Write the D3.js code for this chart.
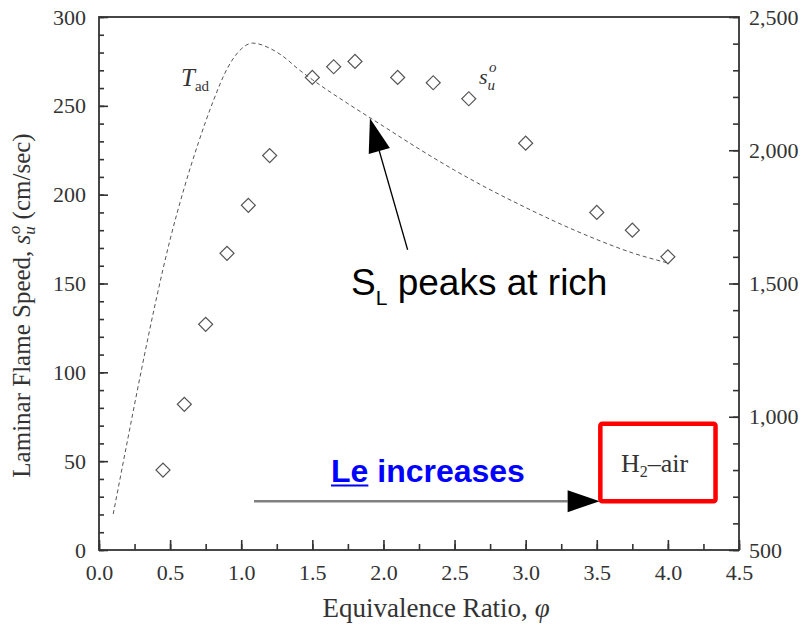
<!DOCTYPE html>
<html>
<head>
<meta charset="UTF-8">
<script src="https://cdn.jsdelivr.net/npm/d3@7/dist/d3.min.js"></script>
<style>
  body { margin: 0; background: #fff; }
  text { font-family: "Liberation Serif", "Times New Roman", serif; fill: #333; }
  .sans { font-family: "Liberation Sans", Arial, sans-serif; }
</style>
</head>
<body>
<svg id="chart" width="802" height="627"></svg>
<script>

// flame speed points (equivalence ratio, cm/sec)
let phi_su = [0.45, 0.6, 0.75, 0.9, 1.05, 1.2, 1.5, 1.65, 1.8, 2.1, 2.35, 2.6, 3.0, 3.5, 3.75, 4.0];
let su     = [45, 82, 127, 167, 194, 222, 266, 272, 275, 266, 263, 254, 229, 190, 180, 165];

// adiabatic flame temperature curve (K, right axis)
let phi_T = [0.1, 0.2, 0.3, 0.4, 0.5, 0.6, 0.7, 0.8, 0.9, 1.0, 1.08, 1.2, 1.3, 1.4, 1.5, 1.75, 2.0, 2.25, 2.5, 2.75, 3.0, 3.25, 3.5, 3.75, 4.0];
let T_ad  = [635, 910, 1180, 1435, 1665, 1860, 2030, 2180, 2305, 2380, 2402, 2383, 2350, 2305, 2265, 2175, 2090, 2005, 1925, 1852, 1785, 1722, 1665, 1615, 1577];

// ticks
let x_major = [0, 0.5, 1, 1.5, 2, 2.5, 3, 3.5, 4, 4.5];
let x_minor = d3.range(0, 4.51, 0.25);
let y_major = [0, 50, 100, 150, 200, 250, 300];
let y_minor = d3.range(0, 301, 10);
let t_major = [500, 1000, 1500, 2000, 2500];
let t_minor = d3.range(500, 2501, 100);

let svg = d3.select("#chart");
let mLeft = 99, mRight = 739, mTop = 17, mBottom = 550;

let x = d3.scaleLinear([0, 4.5], [mLeft, mRight]);
let y = d3.scaleLinear([0, 300], [mBottom, mTop]);
let yT = d3.scaleLinear([500, 2500], [mBottom, mTop]);

//===================== axes =====================//
function styleAxis(g) {
    g.select(".domain").remove();
    g.selectAll("line").attr("stroke", "#333").attr("stroke-width", 1.6);
    g.selectAll("text").attr("font-size", 22).attr("fill", "#333")
        .style("font-family", "'Liberation Serif', serif");
}

// minor ticks, no labels
svg.append("g").attr("transform", `translate(0,${mBottom})`)
    .call(d3.axisBottom(x).tickValues(x_minor).tickSize(-6).tickFormat(""))
    .call(styleAxis);
svg.append("g").attr("transform", `translate(${mLeft},0)`)
    .call(d3.axisLeft(y).tickValues(y_minor).tickSize(-5).tickFormat(""))
    .call(styleAxis);
svg.append("g").attr("transform", `translate(${mRight},0)`)
    .call(d3.axisRight(yT).tickValues(t_minor).tickSize(-6).tickFormat(""))
    .call(styleAxis);

// major ticks with labels
svg.append("g").attr("transform", `translate(0,${mBottom})`)
    .call(d3.axisBottom(x).tickValues(x_major).tickSize(-10).tickPadding(14).tickFormat(d3.format(".1f")))
    .call(styleAxis);
svg.append("g").attr("transform", `translate(${mLeft},0)`)
    .call(d3.axisLeft(y).tickValues(y_major).tickSize(-9).tickPadding(13).tickFormat(d3.format("d")))
    .call(styleAxis);
svg.append("g").attr("transform", `translate(${mRight},0)`)
    .call(d3.axisRight(yT).tickValues(t_major).tickSize(-10).tickPadding(10).tickFormat(d3.format(",")))
    .call(styleAxis);

// frame
svg.append("rect")
    .attr("x", mLeft).attr("y", mTop)
    .attr("width", mRight - mLeft).attr("height", mBottom - mTop)
    .attr("fill", "none").attr("stroke", "#333").attr("stroke-width", 1.8);

// axis titles
let xt = svg.append("text")
    .attr("x", (mLeft + mRight) / 2 + 17).attr("y", 617)
    .attr("text-anchor", "middle").attr("font-size", 27);
xt.append("tspan").text("Equivalence Ratio,  ");
xt.append("tspan").attr("font-style", "italic").text("\u03c6");

let yt = svg.append("text")
    .attr("transform", `translate(30,${(mTop + mBottom) / 2 + 22}) rotate(-90)`)
    .attr("text-anchor", "middle").attr("font-size", 25);
yt.append("tspan").text("Laminar Flame Speed, ");
yt.append("tspan").attr("font-style", "italic").text("s");
yt.append("tspan").attr("font-style", "italic").attr("font-size", 17).attr("dy", 5).text("u");
yt.append("tspan").attr("font-style", "italic").attr("font-size", 17).attr("dx", -8).attr("dy", -15).text("o");
yt.append("tspan").attr("dy", 10).text(" (cm/sec)");

//===================== data =====================//
let line = d3.line()
    .x((d, i) => x(phi_T[i]))
    .y(d => yT(d))
    .curve(d3.curveMonotoneX);

svg.append("path")
    .attr("d", line(T_ad))
    .attr("fill", "none")
    .attr("stroke", "#555")
    .attr("stroke-width", 1)
    .attr("stroke-dasharray", "4,3");

let diamond = d3.symbol().type(d3.symbolSquare).size(98);
svg.append("g").selectAll("path")
    .data(su)
    .join("path")
    .attr("d", diamond)
    .attr("transform", (d, i) => `translate(${x(phi_su[i])},${y(d)}) rotate(45)`)
    .attr("fill", "none")
    .attr("stroke", "#555")
    .attr("stroke-width", 1.2);

// curve labels
let tl = svg.append("text").attr("x", 181).attr("y", 86);
tl.append("tspan").attr("font-style", "italic").attr("font-size", 25).text("T");
tl.append("tspan").attr("font-size", 15).attr("dy", 5).text("ad");

let sl = svg.append("text").attr("x", 479).attr("y", 84).attr("font-style", "italic");
sl.append("tspan").attr("font-size", 22).text("s");
sl.append("tspan").attr("font-size", 15).attr("dy", 6).text("u");
sl.append("tspan").attr("font-size", 15).attr("dx", -6).attr("dy", -18).text("o");

//===================== annotations =====================//
function arrow(x0, y0, x1, y1, len, half, color, width) {
    let dx = x1 - x0, dy = y1 - y0;
    let d = Math.hypot(dx, dy);
    let ux = dx / d, uy = dy / d;
    let bx = x1 - ux * len, by = y1 - uy * len;
    svg.append("line")
        .attr("x1", x0).attr("y1", y0).attr("x2", bx).attr("y2", by)
        .attr("stroke", color).attr("stroke-width", width);
    svg.append("polygon")
        .attr("points", [[x1, y1], [bx - uy * half, by + ux * half], [bx + uy * half, by - ux * half]].join(" "))
        .attr("fill", "#000");
}

// S_L arrow
arrow(x(2.17), y(169), x(1.905), y(243), 34, 11, "#000", 1.3);

let sL = svg.append("text").attr("class", "sans").attr("x", 351).attr("y", 295).attr("font-size", 37).style("fill", "#000");
sL.append("tspan").text("S");
sL.append("tspan").attr("font-size", 21).attr("dy", 10).text("L");
sL.append("tspan").attr("dy", -10).text(" peaks at rich");

// Le arrow
arrow(x(1.09), y(27.5), x(3.52), y(27.5), 32, 11, "#808080", 2.5);

let le = svg.append("text").attr("class", "sans").attr("x", 331).attr("y", 482)
    .attr("font-size", 32).attr("font-weight", "bold").style("fill", "#0000ff");
let leWord = le.append("tspan").text("Le");
le.append("tspan").text(" increases");
let leLen = leWord.node().getComputedTextLength();
svg.append("line")
    .attr("x1", 331).attr("x2", 331 + leLen).attr("y1", 485.5).attr("y2", 485.5)
    .attr("stroke", "#0000ff").attr("stroke-width", 2);

// H2-air box
svg.append("rect")
    .attr("x", x(3.525)).attr("y", y(71))
    .attr("width", x(4.335) - x(3.525)).attr("height", y(27.5) - y(71))
    .attr("rx", 2)
    .attr("fill", "none").attr("stroke", "#ff0000").attr("stroke-width", 4.5);

let h2 = svg.append("text").attr("x", 621).attr("y", 472).attr("font-size", 26);
h2.append("tspan").text("H");
h2.append("tspan").attr("font-size", 16).attr("dy", 5).text("2");
h2.append("tspan").attr("dy", -5).text("\u2013air");

</script>
</body>
</html>
